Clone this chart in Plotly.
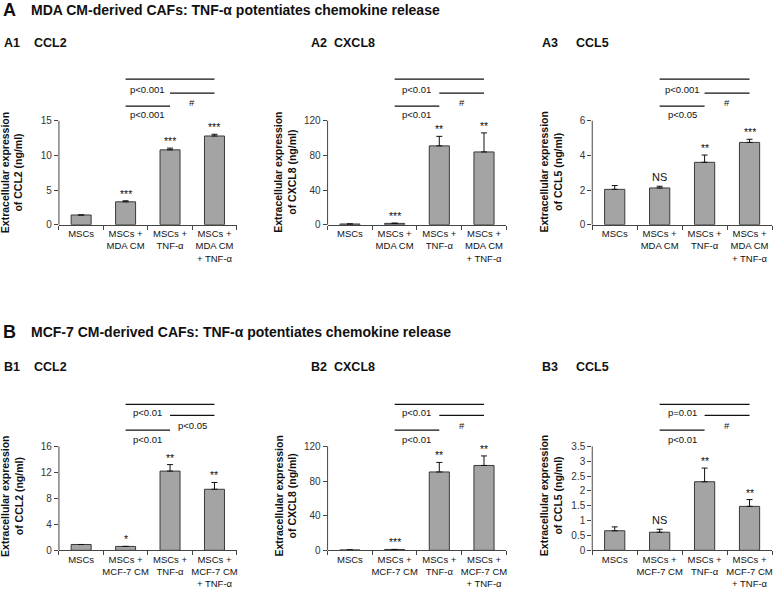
import plotly.graph_objects as go

W, H = 778, 589

# ---------------- data ----------------
CATS_A = ["MSCs", "MSCs +<br>MDA CM", "MSCs +<br>TNF-α", "MSCs +<br>MDA CM<br>+ TNF-α"]
CATS_B = ["MSCs", "MSCs +<br>MCF-7 CM", "MSCs +<br>TNF-α", "MSCs +<br>MCF-7 CM<br>+ TNF-α"]

A1_CCL2 = [1.4, 3.3, 10.8, 12.8]
A1_ERR = [0.0, 0.15, 0.25, 0.25]
A1_STARS = ["", "***", "***", "***"]
A1_TICKS = [0, 5, 10, 15]
A1_PVALS = ["p<0.001", "#", "p<0.001"]

A2_CXCL8 = [0.8, 1.5, 91, 84]
A2_ERR = [0.0, 0.3, 11, 22]
A2_STARS = ["", "***", "**", "**"]
A2_TICKS = [0, 40, 80, 120]
A2_PVALS = ["p<0.01", "#", "p<0.01"]

A3_CCL5 = [2.04, 2.12, 3.6, 4.75]
A3_ERR = [0.22, 0.1, 0.42, 0.18]
A3_STARS = ["", "NS", "**", "***"]
A3_TICKS = [0, 2, 4, 6]
A3_PVALS = ["p<0.001", "#", "p<0.05"]

B1_CCL2 = [0.9, 0.6, 12.2, 9.4]
B1_ERR = [0.0, 0.0, 1.0, 1.05]
B1_STARS = ["", "*", "**", "**"]
B1_TICKS = [0, 4, 8, 12, 16]
B1_PVALS = ["p<0.01", "p<0.05", "p<0.01"]

B2_CXCL8 = [0.5, 1.0, 90.5, 98]
B2_ERR = [0.0, 0.0, 11, 11]
B2_STARS = ["", "***", "**", "**"]
B2_TICKS = [0, 40, 80, 120]
B2_PVALS = ["p<0.01", "#", "p<0.01"]

B3_CCL5 = [0.66, 0.61, 2.31, 1.48]
B3_ERR = [0.13, 0.1, 0.46, 0.23]
B3_STARS = ["", "NS", "**", "**"]
B3_TICKS = [0, 0.5, 1, 1.5, 2, 2.5, 3, 3.5]
B3_PVALS = ["p=0.01", "#", "p<0.01"]

ROW_TITLES = ["MDA CM-derived CAFs: TNF-α potentiates chemokine release",
              "MCF-7 CM-derived CAFs: TNF-α potentiates chemokine release"]
ROW_LETTERS = ["A", "B"]

# comparisons: (group a, group b)
PAIRS = [(1, 3), (2, 3), (1, 2)]

panels = [
    dict(v=A1_CCL2, e=A1_ERR, s=A1_STARS, t=A1_TICKS, p=A1_PVALS, c=CATS_A, tag="A1", name="CCL2"),
    dict(v=A2_CXCL8, e=A2_ERR, s=A2_STARS, t=A2_TICKS, p=A2_PVALS, c=CATS_A, tag="A2", name="CXCL8"),
    dict(v=A3_CCL5, e=A3_ERR, s=A3_STARS, t=A3_TICKS, p=A3_PVALS, c=CATS_A, tag="A3", name="CCL5"),
    dict(v=B1_CCL2, e=B1_ERR, s=B1_STARS, t=B1_TICKS, p=B1_PVALS, c=CATS_B, tag="B1", name="CCL2"),
    dict(v=B2_CXCL8, e=B2_ERR, s=B2_STARS, t=B2_TICKS, p=B2_PVALS, c=CATS_B, tag="B2", name="CXCL8"),
    dict(v=B3_CCL5, e=B3_ERR, s=B3_STARS, t=B3_TICKS, p=B3_PVALS, c=CATS_B, tag="B3", name="CCL5"),
]

# ---------------- layout geometry (pixels) ----------------
COL_L = [59, 328, 593]
COL_R = [237, 507, 773]
ROW_ZERO = [227, 556]
AX_H = 105                      # pixel height of the labelled axis part
ROW_RANGE = [1.44, 1.45]        # range top relative to top tick
BRACKET_FR = [[1.40, 1.265, 1.14], [1.405, 1.298, 1.157]]
PTEXT_FR = [[1.305, 1.18, 1.063], [1.33, 1.205, 1.07]]
PTEXT_X = [1.5, 2.5, 1.5]
YTITLE_X = [12, 286, 552]
YTITLE_Y = [174, 501]
TAG_X = [2, 309, 541]
NAME_X = [32, 332, 575]
TAG_Y = [43, 371]
HEAD_Y = [10, 335]

FONT = "Liberation Sans, Arial, sans-serif"
BAR = "#a4a4a4"
EDGE = "#3a3a3a"
AXC = "#444444"
TXT = "#111111"

fig = go.Figure()
annotations = []
shapes = []
layout = {}

for i, p in enumerate(panels):
    n = i + 1
    row, col = divmod(i, 3)
    xa = "x" if n == 1 else f"x{n}"
    ya = "y" if n == 1 else f"y{n}"
    T = max(p["t"])
    R = T * ROW_RANGE[row]
    xs = list(range(len(p["v"])))

    fig.add_trace(go.Bar(
        x=xs, y=p["v"], width=0.45,
        marker=dict(color=BAR, line=dict(color=EDGE, width=1)),
        error_y=dict(type="data", array=p["e"], arrayminus=[0] * len(xs),
                     symmetric=False, color=TXT, thickness=1, width=3),
        xaxis=xa, yaxis=ya, showlegend=False, hoverinfo="skip"))

    for (a, b), f in zip(PAIRS, BRACKET_FR[row]):
        fig.add_trace(go.Scatter(
            x=[a, b], y=[T * f, T * f], mode="lines",
            line=dict(color=TXT, width=1.3),
            xaxis=xa, yaxis=ya, showlegend=False, hoverinfo="skip"))

    for txt, px, f in zip(p["p"], PTEXT_X, PTEXT_FR[row]):
        annotations.append(dict(x=px, y=T * f, xref=xa, yref=ya, text=txt,
                                showarrow=False, yanchor="middle",
                                font=dict(size=9.5, color=TXT, family=FONT)))

    for j, st in enumerate(p["s"]):
        if st:
            annotations.append(dict(x=j, y=p["v"][j] + p["e"][j], xref=xa, yref=ya,
                                    text=st, showarrow=False, yanchor="bottom",
                                    yshift=-1 if st != "NS" else 1,
                                    font=dict(size=10.5 if st != "NS" else 11,
                                              color=TXT, family=FONT)))

    # y axis line only up to the top tick
    shapes.append(dict(type="line", xref=f"{xa} domain", yref=f"{ya} domain",
                       x0=0, x1=0, y0=0, y1=T / R,
                       line=dict(color=AXC, width=1)))

    zero = ROW_ZERO[row]
    layout["xaxis" if n == 1 else f"xaxis{n}"] = dict(
        domain=[COL_L[col] / W, COL_R[col] / W], anchor=ya,
        range=[-0.5, 3.5], tickmode="array", tickvals=xs, ticktext=p["c"],
        ticks="", showline=True, linecolor=AXC, linewidth=1,
        showgrid=False, zeroline=False,
        minor=dict(tickmode="array", tickvals=[-0.5, 0.5, 1.5, 2.5, 3.5],
                   ticks="outside", ticklen=4, tickcolor=AXC, tickwidth=1,
                   showgrid=False),
        tickfont=dict(size=9.5, color=TXT, family=FONT), fixedrange=True)
    layout["yaxis" if n == 1 else f"yaxis{n}"] = dict(
        domain=[1 - zero / H, 1 - (zero - ROW_RANGE[row] * AX_H) / H], anchor=xa,
        range=[0, R], tickmode="array", tickvals=p["t"],
        ticks="outside", ticklen=4, tickcolor=AXC, tickwidth=1,
        showline=False, showgrid=False, zeroline=False,
        tickfont=dict(size=10, color="#333333", family=FONT), fixedrange=True)

    annotations.append(dict(
        x=YTITLE_X[col] / W, y=1 - YTITLE_Y[row] / H, xref="paper", yref="paper",
        text=f"<b>Extracellular expression<br>of {p['name']} (ng/ml)</b>",
        textangle=-90, showarrow=False, xanchor="center", yanchor="middle",
        font=dict(size=10.5, color=TXT, family=FONT)))
    annotations.append(dict(
        x=TAG_X[col] / W, y=1 - TAG_Y[row] / H, xref="paper", yref="paper",
        text=f"<b>{p['tag']}</b>", showarrow=False, xanchor="left", yanchor="middle",
        font=dict(size=12.5, color=TXT, family=FONT)))
    annotations.append(dict(
        x=NAME_X[col] / W, y=1 - TAG_Y[row] / H, xref="paper", yref="paper",
        text=f"<b>{p['name']}</b>", showarrow=False, xanchor="left", yanchor="middle",
        font=dict(size=12.5, color=TXT, family=FONT)))

for r in range(2):
    annotations.append(dict(
        x=1 / W, y=1 - HEAD_Y[r] / H, xref="paper", yref="paper",
        text=f"<b>{ROW_LETTERS[r]}</b>", showarrow=False, xanchor="left", yanchor="middle",
        font=dict(size=18, color=TXT, family=FONT)))
    annotations.append(dict(
        x=29 / W, y=1 - HEAD_Y[r] / H, xref="paper", yref="paper",
        text=f"<b>{ROW_TITLES[r]}</b>", showarrow=False, xanchor="left", yanchor="middle",
        font=dict(size=14, color=TXT, family=FONT)))

fig.update_layout(
    width=W, height=H, autosize=False,
    margin=dict(l=0, r=0, t=0, b=0),
    paper_bgcolor="white", plot_bgcolor="white",
    font=dict(family=FONT),
    annotations=annotations, shapes=shapes, bargap=0.5,
    **layout)

fig.write_html(
    "out.html",
    config={"displayModeBar": False, "staticPlot": True},
    post_script="document.body.style.margin='0';document.body.style.padding='0';"
                "document.body.style.overflow='hidden';")
